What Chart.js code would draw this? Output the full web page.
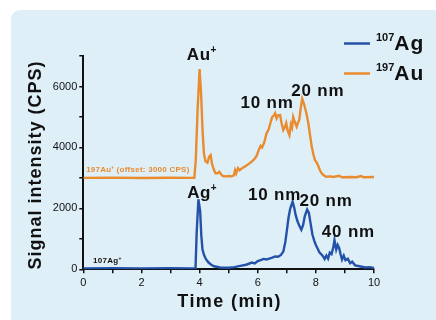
<!DOCTYPE html>
<html><head><meta charset="utf-8">
<script src="https://cdn.jsdelivr.net/npm/chart.js@4/dist/chart.umd.min.js"></script>
<style>
html,body{margin:0;padding:0;background:#fff;}
#wrap{position:relative;width:436px;height:320px;overflow:hidden;}
#panel{position:absolute;left:11px;top:10px;width:440px;height:330px;background:#dfeff8;border-radius:9px;}
canvas{position:absolute;left:0;top:0;}
</style></head>
<body><div id="wrap"><div id="panel"></div><canvas id="c" width="436" height="320"></canvas></div>
<script>
// ---- data ----
const auTime = [0,1,2,3,3.7,3.82,3.87,3.93,4.0,4.05,4.1,4.15,4.2,4.27,4.33,4.38,4.43,4.5,4.55,4.62,4.68,4.74,4.8,4.9,5.0,5.1,5.18,5.22,5.26,5.32,5.38,5.45,5.6,5.75,5.85,5.95,6.05,6.1,6.15,6.22,6.3,6.38,6.45,6.5,6.56,6.6,6.65,6.7,6.77,6.82,6.88,6.93,6.98,7.03,7.09,7.14,7.18,7.22,7.27,7.34,7.38,7.43,7.48,7.53,7.6,7.68,7.74,7.8,7.86,7.92,7.97,8.03,8.08,8.14,8.2,8.26,8.35,8.5,8.6,8.8,8.9,9.2,9.4,9.55,9.65,10];
const auSignal = [0,10,-5,5,0,0,600,2200,3570,2800,1600,800,550,500,700,750,450,250,150,150,200,120,60,50,60,50,80,250,150,320,250,310,400,500,580,700,950,1050,1000,1150,1450,1600,1850,2000,2050,2120,1950,2050,2060,1800,1570,1650,1800,1550,1400,1750,1650,2000,1850,1680,1800,1900,2300,2600,2400,2100,1800,1400,1020,750,580,500,400,250,150,90,40,50,30,70,20,30,20,60,20,30];
const auOffset = 3000;
const agTime = [0,1,2,3,3.8,3.86,3.9,3.96,4.02,4.06,4.1,4.16,4.22,4.3,4.4,4.5,4.7,5.0,5.2,5.4,5.6,5.8,5.9,6.0,6.1,6.2,6.3,6.42,6.5,6.6,6.7,6.8,6.88,6.95,7.0,7.06,7.12,7.2,7.26,7.3,7.36,7.42,7.5,7.56,7.62,7.7,7.76,7.82,7.88,7.94,8.0,8.06,8.12,8.18,8.25,8.3,8.36,8.42,8.48,8.54,8.6,8.64,8.7,8.75,8.8,8.85,8.9,8.96,9.02,9.1,9.18,9.25,9.35,9.5,9.7,9.85,10];
const agSignal = [30,40,30,40,30,30,1200,2300,1900,1100,650,450,330,230,150,100,60,50,70,110,150,220,190,270,300,340,320,360,380,420,410,470,580,900,1250,1700,2000,2220,2000,1800,1600,1450,1300,1450,1750,1960,1850,1500,1150,950,800,680,560,500,420,340,450,350,550,500,720,960,650,800,700,500,320,450,300,350,200,250,130,100,60,70,40];
const xTicks = [0,2,4,6,8,10];
const yTicks = [0,2000,4000,6000];
const seriesNames = [{sup:'107', main:'Ag'}, {sup:'197', main:'Au'}];

const BLUE = '#2452a8', ORANGE = '#e98b2f';
const FONT = "'Liberation Sans', Arial, sans-serif";

function richWidth(ctx, parts){
  let w=0; parts.forEach(p=>{ctx.font=p.f; ctx.letterSpacing=(p.ls||0)+'px'; w+=ctx.measureText(p.t).width;}); return w;
}
function drawRich(ctx, parts, x, y, align, color){
  const w = richWidth(ctx, parts);
  let cx = align==='center' ? x - w/2 : (align==='right'? x-w : x);
  ctx.fillStyle = color; ctx.textBaseline='alphabetic'; ctx.textAlign='left';
  parts.forEach(p=>{ctx.font=p.f; ctx.letterSpacing=(p.ls||0)+'px'; ctx.fillText(p.t, cx, y+(p.dy||0)); cx+=ctx.measureText(p.t).width;});
  ctx.letterSpacing='0px';
}
const B = (s)=> 'bold '+s+'px '+FONT;

// annotations anchored in data coordinates
const notes = [
  {x:4.07, y:6862, parts:[{t:'Au',f:B(17),ls:0.5},{t:'+',f:B(10),dy:-7}]},
  {x:6.32, y:5279, parts:[{t:'10 nm',f:B(17),ls:0.8}]},
  {x:8.07, y:5692, parts:[{t:'20 nm',f:B(17),ls:0.8}]},
  {x:4.08, y:2330, parts:[{t:'Ag',f:B(17),ls:0.5},{t:'+',f:B(10),dy:-7}]},
  {x:6.58, y:2272, parts:[{t:'10 nm',f:B(17),ls:0.8}]},
  {x:8.35, y:2085, parts:[{t:'20 nm',f:B(17),ls:0.8}]},
  {x:9.12, y:1069, parts:[{t:'40 nm',f:B(17),ls:0.8}]},
];

const textPlugin = {
  id:'texts',
  afterDraw(chart){
    const ctx = chart.ctx, xs = chart.scales.x, ys = chart.scales.y;
    ctx.save();
    notes.forEach(n=> drawRich(ctx, n.parts, xs.getPixelForValue(n.x), ys.getPixelForValue(n.y), 'center', '#111'));
    // small series labels
    drawRich(ctx, [{t:'197Au',f:B(8),ls:0.2},{t:'+',f:B(5),dy:-3},{t:' (offset: 3000 CPS)',f:B(8),ls:0.25}], xs.getPixelForValue(0.1), ys.getPixelForValue(3190), 'left', ORANGE);
    drawRich(ctx, [{t:'107Ag',f:B(8),ls:0.3},{t:'+',f:B(5),dy:-3}], xs.getPixelForValue(0.33), ys.getPixelForValue(197), 'left', '#111');
    // axis titles
    ctx.save();
    ctx.translate(41, 165);
    ctx.rotate(-Math.PI/2);
    drawRich(ctx, [{t:'Signal intensity (CPS)', f:B(18), ls:1}], 0, 0, 'center', '#111');
    ctx.restore();
    drawRich(ctx, [{t:'Time (min)', f:B(18), ls:1.4}], (xs.left+xs.right)/2 + 1, 307, 'center', '#111');
    // legend
    const ds = chart.data.datasets;
    ds.forEach((d,i)=>{
      const ly = 43.5 + i*30;
      ctx.strokeStyle = d.borderColor; ctx.lineWidth = 2.5;
      ctx.beginPath(); ctx.moveTo(344, ly); ctx.lineTo(370, ly); ctx.stroke();
      drawRich(ctx, [{t:seriesNames[i].sup, f:B(11)},{t:seriesNames[i].main, f:B(21), ls:1, dy:9}], 376, ly-3, 'left', '#111');
    });
    ctx.restore();
  }
};

new Chart(document.getElementById('c'), {
  type:'line',
  data:{datasets:[
    {label:'107Ag', data: agTime.map((t,i)=>({x:t,y:agSignal[i]})), borderColor:BLUE, borderWidth:2.4, pointRadius:0, tension:0, fill:false},
    {label:'197Au', data: auTime.map((t,i)=>({x:t,y:auSignal[i]+auOffset})), borderColor:ORANGE, borderWidth:2.4, pointRadius:0, tension:0, fill:false},
  ]},
  options:{
    responsive:false, animation:false, devicePixelRatio:1,
    layout:{padding:{left:0, top:56, right:62, bottom:0}},
    plugins:{legend:{display:false}, tooltip:{enabled:false}},
    scales:{
      x:{type:'linear', min:0, max:10,
        afterFit(s){ s.height = 50.7; },
        border:{color:'#111', width:2},
        grid:{drawOnChartArea:false, drawTicks:true, tickLength:4, color:'#111', lineWidth:1.5},
        ticks:{stepSize:1, autoSkip:false, maxRotation:0, padding:3, color:'#111', font:{family:FONT, size:11},
          callback:(v)=> xTicks.includes(v) ? String(v) : ''}
      },
      y:{type:'linear', min:0, max:7000,
        afterFit(s){ s.width = 83.3; },
        border:{color:'#111', width:2},
        grid:{drawOnChartArea:false, drawTicks:true, tickLength:4, color:'#111', lineWidth:1.5},
        ticks:{stepSize:1000, autoSkip:false, padding:2, color:'#111', font:{family:FONT, size:11},
          callback:(v)=> yTicks.includes(v) ? String(v) : ''}
      }
    }
  },
  plugins:[textPlugin]
});
</script></body></html>
